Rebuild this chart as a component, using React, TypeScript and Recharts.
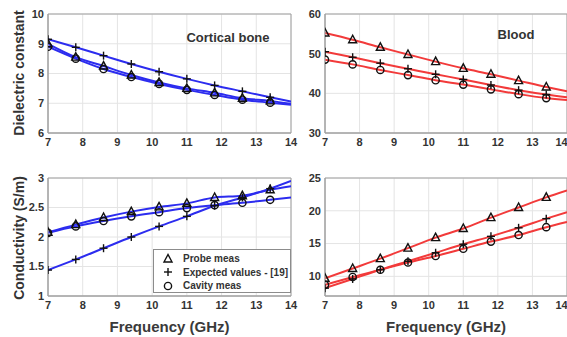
import React from "react";
import {
  LineChart, Line, XAxis, YAxis, CartesianGrid, ReferenceArea, Label,
} from "recharts";

// frequency points (GHz); the last one only carries the line to the edge
const freq = [7, 7.8, 8.6, 9.4, 10.2, 11, 11.8, 12.6, 13.4, 14];
const freqTicks = [7, 8, 9, 10, 11, 12, 13, 14];

// cortical bone, dielectric constant
const boneEpsProbe = [9.0, 8.55, 8.25, 7.95, 7.7, 7.5, 7.35, 7.17, 7.08, 6.98];
const boneEpsExpected = [9.15, 8.88, 8.6, 8.32, 8.06, 7.82, 7.6, 7.4, 7.2, 7.06];
const boneEpsCavity = [8.9, 8.5, 8.15, 7.88, 7.65, 7.45, 7.28, 7.12, 7.02, 6.95];

// blood, dielectric constant
const bloodEpsProbe = [55.2, 53.5, 51.6, 49.8, 48.0, 46.3, 44.8, 43.2, 41.6, 40.5];
const bloodEpsExpected = [50.5, 49.1, 47.6, 46.2, 44.8, 43.5, 42.1, 40.8, 39.7, 39.0];
const bloodEpsCavity = [48.5, 47.3, 45.9, 44.6, 43.3, 42.2, 41.0, 39.8, 38.8, 38.3];

// cortical bone, conductivity (S/m)
const boneSigProbe = [2.08, 2.21, 2.33, 2.43, 2.51, 2.57, 2.67, 2.7, 2.8, 2.86];
const boneSigExpected = [1.44, 1.62, 1.81, 2.0, 2.18, 2.35, 2.53, 2.67, 2.82, 2.95];
const boneSigCavity = [2.07, 2.18, 2.27, 2.35, 2.42, 2.49, 2.54, 2.58, 2.63, 2.67];

// blood, conductivity (S/m)
const bloodSigProbe = [9.7, 11.2, 12.7, 14.3, 15.9, 17.3, 18.95, 20.5, 22.05, 23.1];
const bloodSigExpected = [8.2, 9.6, 11.0, 12.3, 13.6, 14.9, 16.1, 17.4, 18.8, 19.8];
const bloodSigCavity = [8.7, 9.9, 11.0, 12.1, 13.1, 14.2, 15.3, 16.3, 17.5, 18.3];

const legendNames = ["Probe meas", "Expected values - [19]", "Cavity meas"];

const FONT = "'Liberation Sans', Arial, sans-serif";
const BLUE = "#2c2cef";
const RED = "#f23a3a";
const MARKER_COUNT = 9;

const rows = (p: number[], e: number[], c: number[]) =>
  freq.map((f, i) => ({ f, probe: p[i], expected: e[i], cavity: c[i] }));

function Mark({ kind, cx, cy }: { kind: string; cx: number; cy: number }) {
  const s = { stroke: "#111", strokeWidth: 1.4, fill: "none" };
  if (kind === "probe")
    return <polygon points={`${cx},${cy - 4.5} ${cx - 4},${cy + 3} ${cx + 4},${cy + 3}`} {...s} />;
  if (kind === "expected")
    return (
      <g {...s}>
        <line x1={cx - 4} y1={cy} x2={cx + 4} y2={cy} />
        <line x1={cx} y1={cy - 4} x2={cx} y2={cy + 4} />
      </g>
    );
  return <circle cx={cx} cy={cy} r={3.6} {...s} />;
}

const dot = (kind: string) => (props: any) => {
  const { cx, cy, index } = props;
  if (index >= MARKER_COUNT || cx == null) return <g key={`${kind}-${index}`} />;
  return (
    <g key={`${kind}-${index}`}>
      <Mark kind={kind} cx={cx} cy={cy} />
    </g>
  );
};

const tickStyle = { fontSize: 11, fontWeight: 700, fill: "#333", fontFamily: FONT };

function LegendBox() {
  return (
    <div
      style={{
        position: "absolute", left: 153, top: 249, width: 138, height: 44,
        border: "1px solid #8c8c8c", background: "#fff",
        boxSizing: "border-box", fontFamily: FONT, fontSize: 10, fontWeight: 700, color: "#333",
        paddingTop: 2,
      }}
    >
      {["probe", "expected", "cavity"].map((k, i) => (
        <div key={k} style={{ display: "flex", alignItems: "center", height: 13.5 }}>
          <svg width={28} height={12}>
            <Mark kind={k} cx={14} cy={6} />
          </svg>
          <span style={{ marginLeft: 1 }}>{legendNames[i]}</span>
        </div>
      ))}
    </div>
  );
}

type PanelProps = {
  left: number; top: number; width: number; height: number;
  marginTop: number; marginRight: number; yWidth: number; xHeight: number;
  data: any[]; yDomain: [number, number]; yTicks: number[]; color: string;
  xLabel?: boolean;
};

function Panel(p: PanelProps) {
  return (
    <div style={{ position: "absolute", left: p.left, top: p.top }}>
      <LineChart
        width={p.width}
        height={p.height}
        data={p.data}
        margin={{ top: p.marginTop, right: p.marginRight, left: 0, bottom: 0 }}
      >
        <CartesianGrid stroke="#e4e4e4" />
        <XAxis
          dataKey="f" type="number" domain={[7, 14]} ticks={freqTicks} allowDataOverflow
          height={p.xHeight} tick={tickStyle} tickLine={false} tickSize={0} tickMargin={5}
          axisLine={{ stroke: "#a0a0a0" }}
        >
          {p.xLabel && (
            <Label
              value="Frequency (GHz)" position="insideBottom" offset={5}
              style={{ fontSize: 15, fontWeight: 700, fill: "#3a3a3a", fontFamily: FONT }}
            />
          )}
        </XAxis>
        <YAxis
          type="number" domain={p.yDomain} ticks={p.yTicks} allowDataOverflow width={p.yWidth}
          tick={tickStyle} tickLine={false} tickSize={0} tickMargin={4}
          axisLine={{ stroke: "#a0a0a0" }}
        />
        <ReferenceArea
          x1={7} x2={14} y1={p.yDomain[0]} y2={p.yDomain[1]}
          fill="none" stroke="#a0a0a0" strokeWidth={1} fillOpacity={0}
        />
        {["probe", "expected", "cavity"].map((k) => (
          <Line
            key={k} dataKey={k} type="monotone" stroke={p.color} strokeWidth={2}
            dot={dot(k)} activeDot={false} isAnimationActive={false}
          />
        ))}
      </LineChart>
    </div>
  );
}

const yLabelStyle: React.CSSProperties = {
  position: "absolute", transform: "translate(-50%, -50%) rotate(-90deg)", whiteSpace: "nowrap",
  fontFamily: FONT, fontSize: 14, fontWeight: 700, color: "#333",
};
const titleStyle: React.CSSProperties = {
  position: "absolute", transform: "translate(-50%, -50%)", whiteSpace: "nowrap",
  fontFamily: FONT, fontSize: 13, fontWeight: 700, color: "#333",
};

export default function App() {
  return (
    <div
      style={{
        position: "fixed", left: 0, top: 0, width: 567, height: 337, background: "#fff",
        overflow: "hidden",
      }}
    >
      <Panel
        left={0} top={0} width={300} height={160} marginTop={14} marginRight={9}
        yWidth={48} xHeight={27} data={rows(boneEpsProbe, boneEpsExpected, boneEpsCavity)}
        yDomain={[6, 10]} yTicks={[6, 7, 8, 9, 10]} color={BLUE}
      />
      <Panel
        left={280} top={0} width={287} height={160} marginTop={14} marginRight={0}
        yWidth={45} xHeight={27} data={rows(bloodEpsProbe, bloodEpsExpected, bloodEpsCavity)}
        yDomain={[30, 60]} yTicks={[30, 40, 50, 60]} color={RED}
      />
      <Panel
        left={0} top={160} width={300} height={177} marginTop={18} marginRight={9}
        yWidth={48} xHeight={41} data={rows(boneSigProbe, boneSigExpected, boneSigCavity)}
        yDomain={[1, 3]} yTicks={[1, 1.5, 2, 2.5, 3]} color={BLUE} xLabel
      />
      <Panel
        left={280} top={160} width={287} height={177} marginTop={18} marginRight={0}
        yWidth={45} xHeight={41} data={rows(bloodSigProbe, bloodSigExpected, bloodSigCavity)}
        yDomain={[7, 25]} yTicks={[10, 15, 20, 25]} color={RED} xLabel
      />
      <LegendBox />
      <div style={{ ...yLabelStyle, left: 19, top: 73 }}>Dielectric constant</div>
      <div style={{ ...yLabelStyle, left: 19, top: 238 }}>Conductivity (S/m)</div>
      <div style={{ ...titleStyle, left: 228, top: 37 }}>Cortical bone</div>
      <div style={{ ...titleStyle, left: 516, top: 34 }}>Blood</div>
    </div>
  );
}
